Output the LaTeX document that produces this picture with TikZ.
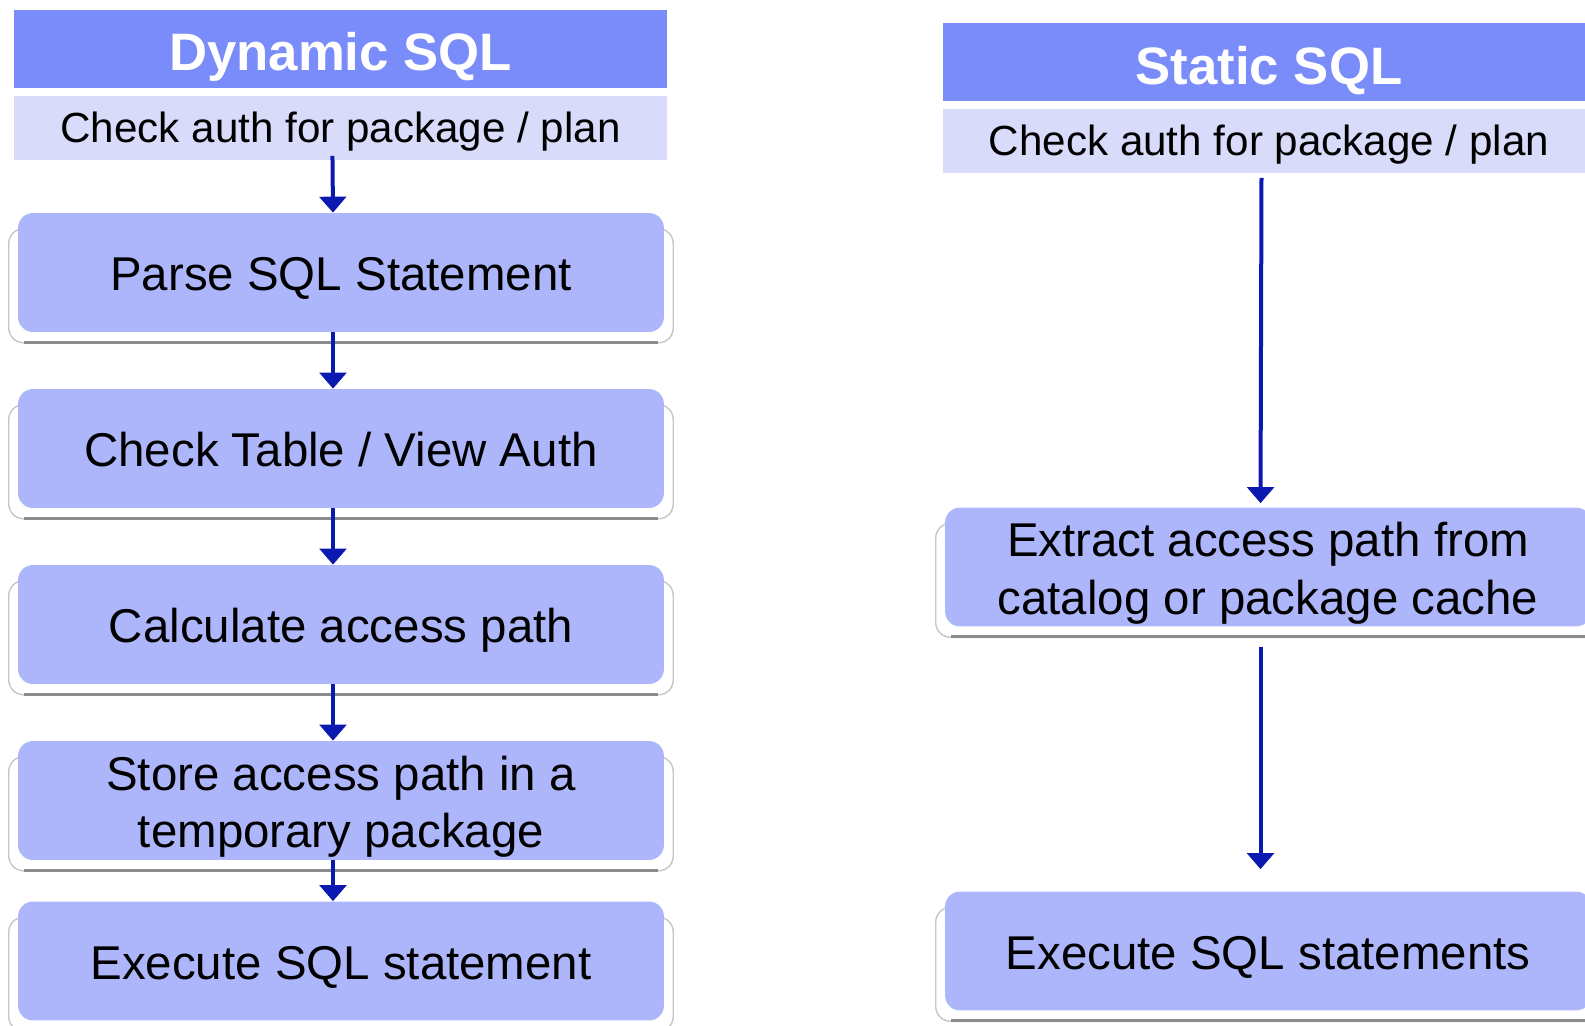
\documentclass[tikz,border=0pt]{standalone}
\usepackage{fontspec}
\setmainfont{Liberation Sans}
\usetikzlibrary{arrows.meta,backgrounds,calc}

\definecolor{headblue}{RGB}{122,139,250}
\definecolor{subblue}{RGB}{216,219,250}
\definecolor{boxblue}{RGB}{173,182,250}
\definecolor{arrowblue}{RGB}{10,26,176}

% two centred lines, set a little below the middle of their box
\newcommand\twolines[2]{\raisebox{-4pt}[\height][\depth]{\begin{tabular}{@{}c@{}}#1\\#2\end{tabular}}}

\tikzset{
  header/.style={fill=headblue, minimum width=13.06cm, minimum height=1.56cm,
    inner sep=0pt, text=white, text height=24.5pt, text depth=0pt,
    font=\bfseries\fontsize{30}{36}\selectfont},
  subhead/.style={fill=subblue, minimum width=13.06cm, minimum height=1.28cm,
    inner sep=0pt, text height=16pt, text depth=0pt,
    font=\fontsize{24}{29}\selectfont},
  boxbase/.style={fill=boxblue, rounded corners=0.3cm, minimum width=12.92cm,
    minimum height=2.38cm, inner sep=0pt,
    font=\fontsize{27}{32.8}\selectfont},
  stepbox/.style={boxbase, text height=21pt, text depth=0pt},
  flow/.style={draw=arrowblue, line width=0.08cm,
    -{Triangle[width=0.53cm,length=0.32cm]}},
  raised/.style={fill=white, draw=gray!45, line width=0.8pt, rounded corners=0.3cm},
  raisedline/.style={draw=black!45, line width=1.7pt},
}

\begin{document}
\begin{tikzpicture}[x=0.02cm, y=-0.02cm]
  \useasboundingbox (0,0) rectangle (1585,1026);
  \clip (0,0) rectangle (1585,1026);

  % Dynamic SQL column
  \node[header]  (dh) at (340.5,49)   {Dynamic SQL};
  \node[subhead] (ds) at (340.5,128.5) {Check auth for package / plan};
  \node[stepbox] (d1) at (341,272.5) {Parse SQL Statement};
  \node[stepbox] (d2) at (341,448.5) {Check Table / View Auth};
  \node[stepbox] (d3) at (341,624.5) {Calculate access path};
  \node[boxbase] (d4) at (341,800.5) {\twolines{Store access path in a}{temporary package}};
  \node[stepbox] (d5) at (341,961)   {Execute SQL statement};

  % Static SQL column
  \node[header]  (sh) at (1269,62.5)  {Static SQL};
  \node[subhead] (ss) at (1269,141.5) {Check auth for package / plan};
  \node[boxbase] (s1) at (1268,567)   {\twolines{Extract access path from}{catalog or package cache}};
  \node[stepbox] (s2) at (1268,951)   {Execute SQL statements};

  % raised plates under the step boxes
  \begin{scope}[on background layer]
    \foreach \n in {d1,d2,d3,d4,d5,s1,s2} {
      \draw[raised] ($(\n.north west)+(-0.18cm,-0.32cm)$) rectangle ($(\n.south east)+(0.18cm,-0.21cm)$);
      \draw[raisedline] ($(\n.south west)+(0.12cm,-0.2cm)$) -- ($(\n.south east)+(-0.12cm,-0.2cm)$);
    }
  \end{scope}

  % flow arrows
  \draw[flow, shorten <=-0.1cm] ([xshift=-0.16cm]ds.south) -- ([xshift=-0.16cm]d1.north);
  \draw[flow] ([xshift=-0.16cm]d1.south) -- ([xshift=-0.16cm]d2.north);
  \draw[flow] ([xshift=-0.16cm]d2.south) -- ([xshift=-0.16cm]d3.north);
  \draw[flow] ([xshift=-0.16cm]d3.south) -- ([xshift=-0.16cm]d4.north);
  \draw[flow] ([xshift=-0.16cm]d4.south) -- ([xshift=-0.16cm]d5.north);
  \draw[flow, shorten <=0.08cm, shorten >=0.08cm] ([xshift=-0.15cm]ss.south) -- ([xshift=-0.15cm]s1.north);
  \draw[flow, shorten <=0.4cm, shorten >=0.44cm] ([xshift=-0.15cm]s1.south) -- ([xshift=-0.15cm]s2.north);
\end{tikzpicture}
\end{document}
